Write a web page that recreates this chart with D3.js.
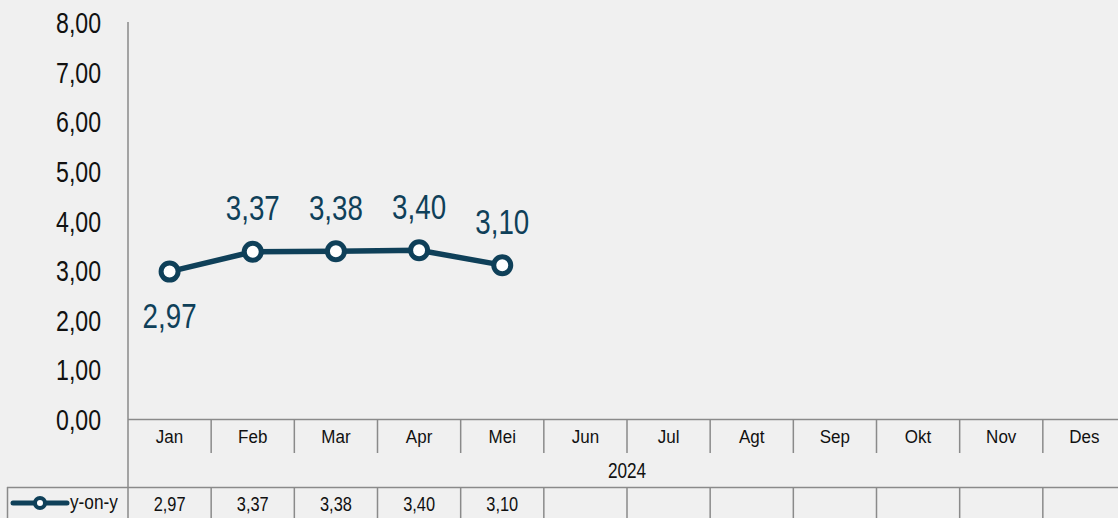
<!DOCTYPE html>
<html><head><meta charset="utf-8">
<script src="https://cdn.jsdelivr.net/npm/d3@7"></script>
<style>
html,body{margin:0;padding:0;background:#f0f0f0;overflow:hidden;}
svg{display:block;}
text{font-family:"Liberation Sans Narrow","Arial Narrow","Liberation Sans",Arial,sans-serif;}
</style></head>
<body><div id="chart"></div>
<script>
const categories = ["Jan","Feb","Mar","Apr","Mei","Jun","Jul","Agt","Sep","Okt","Nov","Des"];
const yearLabel = "2024";
const seriesName = "y-on-y";
const values = [2.97, 3.37, 3.38, 3.40, 3.10];
const yTicks = [0,1,2,3,4,5,6,7,8];
const labelBelow = [true,false,false,false,false];

const W = 1118, H = 518;
const color = "#0f4059";
const gridColor = "#8a8a8a";
const fmt = v => v.toFixed(2).replace(".", ",");

const svg = d3.select("#chart").append("svg").attr("width", W).attr("height", H);

const x = d3.scaleBand().domain(categories).range([128, 1126]).padding(0);
const y = d3.scaleLinear().domain([0, 8]).range([419, 22]);

// condensed text helper (narrow font substitute)
function ntext(g, sel, opts) {
  return sel.attr("x", 0).attr("y", 0).attr("dy", "0.35em")
    .attr("transform", (d,i) => `translate(${opts.x(d,i)},${opts.y(d,i)}) scale(${opts.sx},1)`)
    .attr("font-size", opts.size).attr("fill", opts.fill || "#111")
    .attr("text-anchor", opts.anchor || "middle");
}

// y axis labels via axis scale
const yAxis = d3.axisLeft(y).tickValues(yTicks).tickFormat(fmt).tickSize(0).tickPadding(0);
const ya = svg.append("g").attr("transform", "translate(101,0)").call(yAxis);
ya.select(".domain").remove();
ya.selectAll("text").attr("x", 0).attr("dy", "0.35em").attr("font-size", 30).attr("fill", "#111")
  .attr("text-anchor", "end").attr("transform", "scale(0.77,1)").attr("font-family", null);
// keep vertical position: scale only affects x, tick groups are translated in y
svg.append("line").attr("x1",128).attr("x2",128).attr("y1",22).attr("y2",H)
  .attr("stroke", gridColor).attr("stroke-width",1.5);

// category row
svg.append("line").attr("x1",128).attr("x2",W).attr("y1",419.5).attr("y2",419.5)
  .attr("stroke", gridColor).attr("stroke-width",1.5);
svg.append("g").selectAll("line").data(categories.slice(1)).join("line")
  .attr("x1", d => x(d)).attr("x2", d => x(d)).attr("y1", 419).attr("y2", 453)
  .attr("stroke", gridColor).attr("stroke-width",1.5);
ntext(svg, svg.append("g").selectAll("text").data(categories).join("text").text(d => d),
  {x: d => x(d) + x.bandwidth()/2, y: () => 437, sx: 0.92, size: 18.5});
ntext(svg, svg.append("text").datum(yearLabel).text(d => d),
  {x: () => (x.range()[0]+x.range()[1])/2, y: () => 470, sx: 0.8, size: 21.5});

// data table
svg.append("line").attr("x1",7).attr("x2",W).attr("y1",487.5).attr("y2",487.5)
  .attr("stroke", gridColor).attr("stroke-width",1.5);
svg.append("line").attr("x1",7.5).attr("x2",7.5).attr("y1",487).attr("y2",H)
  .attr("stroke", gridColor).attr("stroke-width",1.5);
svg.append("g").selectAll("line").data(categories.slice(1)).join("line")
  .attr("x1", d => x(d)).attr("x2", d => x(d)).attr("y1", 487).attr("y2", H)
  .attr("stroke", gridColor).attr("stroke-width",1.5);
ntext(svg, svg.append("g").selectAll("text").data(values).join("text").text(fmt),
  {x: (d,i) => x(categories[i]) + x.bandwidth()/2, y: () => 504, sx: 0.78, size: 21});

// legend in table
svg.append("line").attr("x1",13).attr("x2",67).attr("y1",503).attr("y2",503)
  .attr("stroke", color).attr("stroke-width",5).attr("stroke-linecap","round");
svg.append("circle").attr("cx",40).attr("cy",503).attr("r",5)
  .attr("fill","#fff").attr("stroke",color).attr("stroke-width",4);
ntext(svg, svg.append("text").datum(seriesName).text(d => d),
  {x: () => 70, y: () => 502, sx: 0.82, size: 21, anchor: "start"});

// line series
const cx = i => x(categories[i]) + x.bandwidth()/2;
const line = d3.line().x((d,i) => cx(i)).y(d => y(d));
svg.append("path").datum(values).attr("d", line).attr("fill","none")
  .attr("stroke", color).attr("stroke-width",5.5).attr("stroke-linejoin","round");
svg.append("g").selectAll("circle").data(values).join("circle")
  .attr("cx", (d,i) => cx(i)).attr("cy", d => y(d)).attr("r", 8.5)
  .attr("fill","#fff").attr("stroke", color).attr("stroke-width",5);
ntext(svg, svg.append("g").selectAll("text").data(values).join("text").text(fmt),
  {x: (d,i) => cx(i), y: (d,i) => y(d) + (labelBelow[i] ? 44 : -44), sx: 0.77, size: 36, fill: color});
</script></body></html>
